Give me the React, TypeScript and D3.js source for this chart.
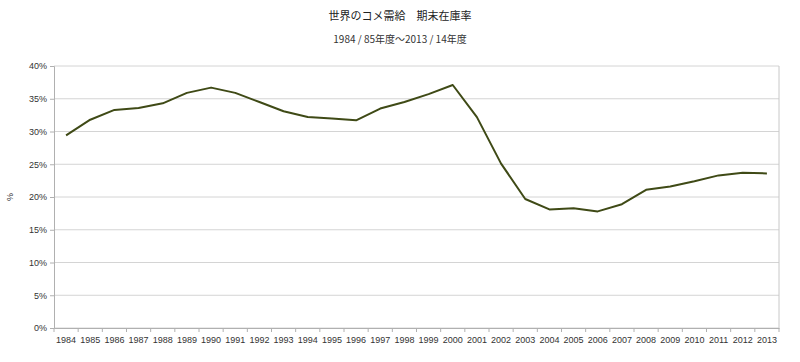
import React, { useEffect, useRef } from 'react';
import * as d3 from 'd3';

const years = [
  '1984', '1985', '1986', '1987', '1988', '1989', '1990', '1991', '1992', '1993',
  '1994', '1995', '1996', '1997', '1998', '1999', '2000', '2001', '2002', '2003',
  '2004', '2005', '2006', '2007', '2008', '2009', '2010', '2011', '2012', '2013',
];

// 期末在庫率 (%)
const stockRatio = [
  29.4, 31.8, 33.3, 33.6, 34.3, 35.9, 36.7, 35.9, 34.5, 33.1,
  32.2, 32.0, 31.7, 33.5, 34.5, 35.7, 37.1, 32.2, 25.1, 19.7,
  18.1, 18.3, 17.8, 18.9, 21.1, 21.6, 22.4, 23.3, 23.7, 23.6,
];

const yTicks = [0, 5, 10, 15, 20, 25, 30, 35, 40];

const title = '世界のコメ需給　期末在庫率';
const subtitle = '1984 / 85年度～2013 / 14年度';

const W = 800;
const H = 362;
const margin = { top: 66, right: 21, bottom: 34, left: 54 };

export default function App() {
  const svgRef = useRef<SVGSVGElement>(null);

  useEffect(() => {
    const svg = d3.select(svgRef.current);
    svg.selectAll('*').remove();

    const innerW = W - margin.left - margin.right;
    const innerH = H - margin.top - margin.bottom;

    const x = d3.scaleBand().domain(years).range([0, innerW]);
    const y = d3.scaleLinear().domain([0, 40]).range([innerH, 0]);

    svg.append('rect').attr('width', W).attr('height', H).attr('fill', '#fff');

    svg.append('text')
      .attr('x', W / 2).attr('y', 20)
      .attr('text-anchor', 'middle')
      .style('font-family', '"Noto Sans CJK JP", sans-serif')
      .style('font-size', '11px')
      .style('fill', '#222')
      .text(title);

    svg.append('text')
      .attr('x', W / 2).attr('y', 43)
      .attr('text-anchor', 'middle')
      .style('font-family', '"Noto Sans CJK JP", sans-serif')
      .style('font-size', '10px')
      .style('fill', '#333')
      .text(subtitle);

    svg.append('text')
      .attr('transform', `translate(13, ${margin.top + innerH / 2}) rotate(-90)`)
      .attr('text-anchor', 'middle')
      .style('font-family', '"Liberation Sans", Arial, sans-serif')
      .style('font-size', '9px')
      .style('fill', '#333')
      .text('%');

    const g = svg.append('g').attr('transform', `translate(${margin.left},${margin.top})`);

    // gridlines
    g.selectAll('.grid')
      .data(yTicks)
      .enter()
      .append('line')
      .attr('x1', 0).attr('x2', innerW)
      .attr('y1', d => y(d)).attr('y2', d => y(d))
      .style('stroke', '#d4d4d4')
      .style('stroke-width', '1px');

    // right border
    g.append('line')
      .attr('x1', innerW).attr('x2', innerW)
      .attr('y1', 0).attr('y2', innerH)
      .style('stroke', '#c8c8c8');

    const yAxis = g.append('g')
      .call(d3.axisLeft(y).tickValues(yTicks).tickSize(4).tickPadding(3).tickFormat(d => `${d}%`));
    yAxis.select('.domain').style('stroke', '#b0b0b0');
    yAxis.selectAll('.tick line').style('stroke', '#b0b0b0');
    yAxis.selectAll('text')
      .style('font-family', '"Liberation Sans", Arial, sans-serif')
      .style('font-size', '9px')
      .style('fill', '#333');

    const xAxis = g.append('g')
      .attr('transform', `translate(0,${innerH})`)
      .call(d3.axisBottom(x).tickSize(0).tickPadding(9).tickSizeOuter(0));
    xAxis.select('.domain').style('stroke', '#b0b0b0');
    xAxis.selectAll('text')
      .style('font-family', '"Liberation Sans", Arial, sans-serif')
      .style('font-size', '9px')
      .style('fill', '#333');

    // ticks at band boundaries
    g.selectAll('.xtick')
      .data(years.concat(['end']))
      .enter()
      .append('line')
      .attr('x1', (d, i) => i * x.step())
      .attr('x2', (d, i) => i * x.step())
      .attr('y1', innerH).attr('y2', innerH + 4)
      .style('stroke', '#b0b0b0');

    const line = d3.line<number>()
      .x((d, i) => (x(years[i]) ?? 0) + x.bandwidth() / 2)
      .y(d => y(d));

    g.append('path')
      .datum(stockRatio)
      .attr('d', line)
      .style('fill', 'none')
      .style('stroke', '#3f4a16')
      .style('stroke-width', '2px')
      .style('stroke-linejoin', 'round');
  }, []);

  return (
    <svg ref={svgRef} width={W} height={H} style={{ display: 'block', position: 'absolute', left: 0, top: 0 }} />
  );
}
